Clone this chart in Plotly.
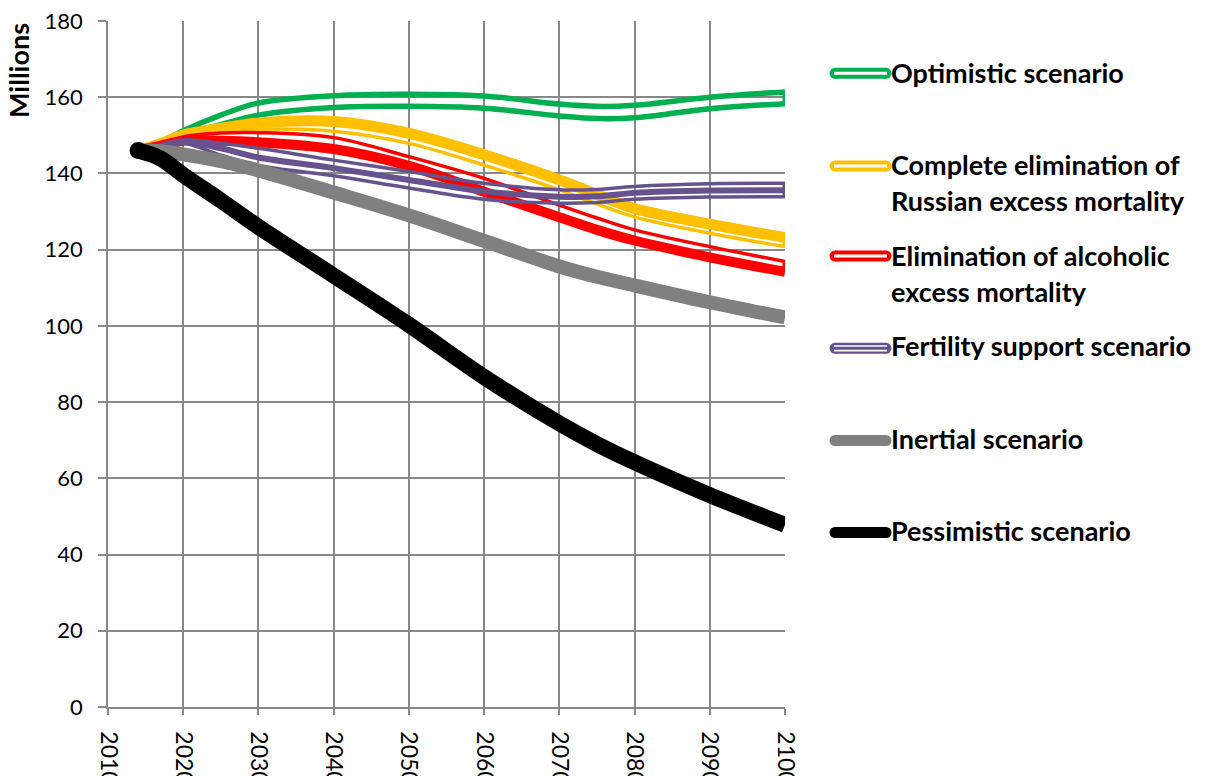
import plotly.graph_objects as go

# ---------------- data (millions) ----------------
YEARS = [2014, 2017, 2020, 2025, 2030, 2040, 2050, 2060, 2070, 2075, 2080, 2090, 2100]

OPTIMISTIC_HIGH = [146, 148.2, 151.2, 155.3, 158.5, 160.4, 160.8, 160.3, 158.2, 157.6, 157.9, 160.0, 161.4]
OPTIMISTIC_LOW = [146, 147.6, 150.0, 152.8, 155.3, 157.3, 157.6, 157.1, 155.1, 154.4, 154.6, 157.0, 158.3]

EXCESS_HIGH = [146, 147.8, 150.1, 151.8, 153.2, 153.6, 150.5, 144.9, 138.3, 134.5, 130.8, 126.7, 123.2]
EXCESS_LOW = [146, 147.5, 149.6, 150.8, 151.6, 151.1, 147.9, 142.2, 135.7, 132.0, 128.6, 124.3, 120.8]

ALCOHOL_HIGH = [146, 147.6, 149.6, 150.6, 150.7, 149.4, 144.4, 138.7, 131.7, 128.3, 125.2, 120.8, 116.9]
ALCOHOL_LOW = [146, 147.3, 148.6, 148.6, 148.2, 146.4, 142.0, 135.2, 128.5, 125.2, 122.4, 118.0, 114.2]

FERTILITY_TOP = [146, 147.5, 148.8, 147.9, 146.6, 143.5, 140.5, 137.4, 135.7, 135.8, 136.6, 137.3, 137.4]
FERTILITY_MID = [146, 147.2, 148.3, 146.6, 144.2, 141.4, 138.3, 135.3, 133.9, 134.0, 134.9, 135.5, 135.6]
FERTILITY_BOT = [146, 147.0, 147.9, 144.8, 142.1, 139.4, 136.2, 133.2, 132.2, 132.4, 133.2, 133.8, 133.9]

INERTIAL = [146, 145.8, 145.0, 143.2, 140.8, 135.0, 129.0, 122.3, 115.6, 112.9, 110.6, 106.2, 102.2]
PESSIMISTIC = [146, 143.9, 139.6, 132.9, 126.0, 113.2, 100.3, 86.6, 74.4, 69.0, 64.2, 55.6, 47.8]

X_TICKS = [2010, 2020, 2030, 2040, 2050, 2060, 2070, 2080, 2090, 2100]
Y_TICKS = [0, 20, 40, 60, 80, 100, 120, 140, 160, 180]

LEGEND_LABELS = [
    ["Optimistic scenario"],
    ["Complete elimination of", "Russian excess mortality"],
    ["Elimination of alcoholic", "excess mortality"],
    ["Fertility support scenario"],
    ["Inertial scenario"],
    ["Pessimistic scenario"],
]

GREEN = "#00B050"
YELLOW = "#FFC000"
RED = "#FF0000"
PURPLE = "#66528C"
GRAY = "#808080"
BLACK = "#000000"
GRID = "#888888"

FONT = "Lato"

# ---------------- figure ----------------
fig = go.Figure()


def add_line(y, color, width):
    fig.add_trace(go.Scatter(
        x=YEARS, y=y, mode="lines",
        line=dict(color=color, width=width, shape="spline", smoothing=1.0),
        hoverinfo="skip", showlegend=False,
    ))


def add_end_bar(y_a, y_b, color, width=5):
    fig.add_trace(go.Scatter(
        x=[YEARS[-1], YEARS[-1]], y=[y_a[-1], y_b[-1]], mode="lines",
        line=dict(color=color, width=width),
        hoverinfo="skip", showlegend=False,
    ))


add_line(OPTIMISTIC_HIGH, GREEN, 5.5)
add_line(OPTIMISTIC_LOW, GREEN, 5.5)
add_end_bar(OPTIMISTIC_HIGH, OPTIMISTIC_LOW, GREEN)
add_line(EXCESS_HIGH, YELLOW, 11)
add_line(EXCESS_LOW, YELLOW, 3.5)
add_end_bar(EXCESS_HIGH, EXCESS_LOW, YELLOW)
add_line(ALCOHOL_HIGH, RED, 3.5)
add_line(ALCOHOL_LOW, RED, 10)
add_end_bar(ALCOHOL_HIGH, ALCOHOL_LOW, RED)
add_line(FERTILITY_TOP, PURPLE, 3.5)
add_line(FERTILITY_MID, PURPLE, 6)
add_line(FERTILITY_BOT, PURPLE, 3.5)
add_end_bar(FERTILITY_TOP, FERTILITY_BOT, PURPLE)
add_line(INERTIAL, GRAY, 14)
add_line(PESSIMISTIC, BLACK, 16)
fig.add_trace(go.Scatter(
    x=[YEARS[0]], y=[PESSIMISTIC[0]], mode="markers",
    marker=dict(color=BLACK, size=17, line=dict(width=0)),
    hoverinfo="skip", showlegend=False,
))

# ---------------- layout geometry ----------------
# page body has an 8px margin, so the figure is drawn 8px right/down
OFF = 8
W, H = 1207 - OFF, 776 - OFF
# plot area in screen pixels
L, R, T, B = 108, 785, 21, 707


def px_x(px):
    return (px - L) / (R - L)


def px_y(py):
    return (B - py) / (B - T)


shapes = []
annotations = []

legend_icon_y = [73.3, 166, 256, 348.3, 440.5, 532.5]
legend_text_y = [[74], [166, 201.7], [256.7, 292.5], [346.7], [440], [531.7]]
legend_colors = [GREEN, YELLOW, RED, PURPLE, GRAY, BLACK]
legend_inner = ["single", "single", "single", "double", None, None]

x0_icon, x1_icon = 835.0, 886.0
rad = 5.5
for cy, col, inner in zip(legend_icon_y, legend_colors, legend_inner):
    shapes.append(dict(type="line", xref="paper", yref="paper",
                       x0=px_x(x0_icon), x1=px_x(x1_icon), y0=px_y(cy), y1=px_y(cy),
                       line=dict(color=col, width=2 * rad)))
    for cx in (x0_icon, x1_icon):
        shapes.append(dict(type="circle", xref="paper", yref="paper",
                           x0=px_x(cx - rad), x1=px_x(cx + rad),
                           y0=px_y(cy + rad), y1=px_y(cy - rad),
                           fillcolor=col, line=dict(width=0)))
    if inner == "single":
        shapes.append(dict(type="line", xref="paper", yref="paper",
                           x0=px_x(834), x1=px_x(887), y0=px_y(cy), y1=px_y(cy),
                           line=dict(color="white", width=3)))
    elif inner == "double":
        for dy in (-2.3, 2.3):
            shapes.append(dict(type="line", xref="paper", yref="paper",
                               x0=px_x(834), x1=px_x(887), y0=px_y(cy + dy), y1=px_y(cy + dy),
                               line=dict(color="white", width=1.6)))

for lines, ys in zip(LEGEND_LABELS, legend_text_y):
    for txt, ty in zip(lines, ys):
        annotations.append(dict(
            xref="paper", yref="paper", x=px_x(889), y=px_y(ty - 1.5),
            xanchor="left", yanchor="middle", showarrow=False, text=txt,
            font=dict(family=FONT, size=27, color="black", weight="bold"),
        ))

annotations.append(dict(
    xref="paper", yref="paper", x=px_x(18), y=px_y(71),
    xanchor="center", yanchor="middle", showarrow=False, text="Millions",
    textangle=-90, font=dict(family=FONT, size=27, color="black", weight="bold"),
))

fig.update_layout(
    width=W, height=H, autosize=False,
    margin=dict(l=L - OFF, r=W - (R - OFF), t=T - OFF, b=H - (B - OFF), pad=0),
    paper_bgcolor="white", plot_bgcolor="white",
    showlegend=False,
    shapes=shapes, annotations=annotations,
    font=dict(family=FONT, color="black"),
)

fig.update_xaxes(
    range=[2010, 2100], tickvals=X_TICKS, ticktext=[str(v) for v in X_TICKS],
    tickangle=90, showgrid=True, gridcolor=GRID, gridwidth=1.5,
    showline=True, linecolor=GRID, linewidth=1.5, zeroline=False,
    ticks="outside", ticklen=6, tickcolor=GRID, tickwidth=1.5,
    tickfont=dict(family=FONT, size=23, color="black"),
    ticklabelstandoff=12, automargin=False, ticklabeloverflow="allow",
)
fig.update_yaxes(
    range=[0, 180], tickvals=Y_TICKS, showgrid=True, gridcolor=GRID, gridwidth=1.5,
    showline=True, linecolor=GRID, linewidth=1.5, zeroline=False,
    ticks="outside", ticklen=8, tickcolor=GRID, tickwidth=1.5,
    tickfont=dict(family=FONT, size=22, color="black"),
    ticklabelstandoff=11, automargin=False, ticklabeloverflow="allow",
)

fig.write_html("out.html")
